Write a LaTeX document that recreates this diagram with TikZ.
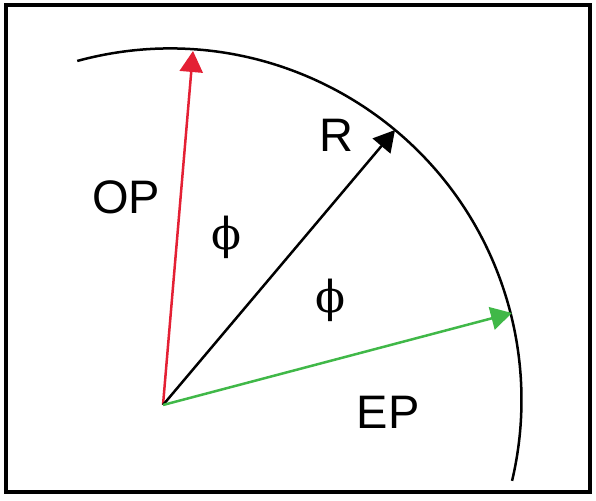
\documentclass[tikz,border=0pt]{standalone}
\usepackage{fontspec}
\setmainfont{Liberation Sans}
\newfontfamily\phifont{DejaVu Serif}
\usetikzlibrary{arrows.meta}
\definecolor{opred}{RGB}{228,32,52}
\definecolor{epgreen}{RGB}{64,184,72}
\begin{document}
\begin{tikzpicture}[x=1pt,y=1pt]
\tikzstyle{lbl}=[anchor=center,inner sep=0pt,font=\fontsize{47}{56}\selectfont]
\tikzstyle{phisym}=[anchor=center,inner sep=0pt,font=\fontsize{44}{56}\phifont]
\tikzstyle{arrow}=[-{Triangle[length=21pt,width=23pt]},line width=2.5pt]

\useasboundingbox (0,0) rectangle (596,500);
\draw [line width=4pt] (6,8) rectangle (590,495);

\coordinate (centre) at (170,100);
\draw [line width=2.5pt] ([shift={(105.3:351.5)}]centre) arc (105.3:-13.3:351.5);

\coordinate (origin) at (163,95);
\coordinate (optip) at (193,449);
\coordinate (rtip) at (395,370);
\coordinate (eptip) at (512,187);

\draw [arrow,opred] (origin) -- (optip);
\draw [arrow,black] (origin) -- (rtip);
\draw [arrow,epgreen] (origin) -- (eptip);

\node [lbl] at (126,303) (op) {OP};
\node [lbl] at (336,365) (r) {R};
\node [lbl] at (388,88) (ep) {EP};
\node [phisym] at (226,263) (phi1) {ϕ};
\node [phisym] at (330,200) (phi2) {ϕ};
\end{tikzpicture}
\end{document}
